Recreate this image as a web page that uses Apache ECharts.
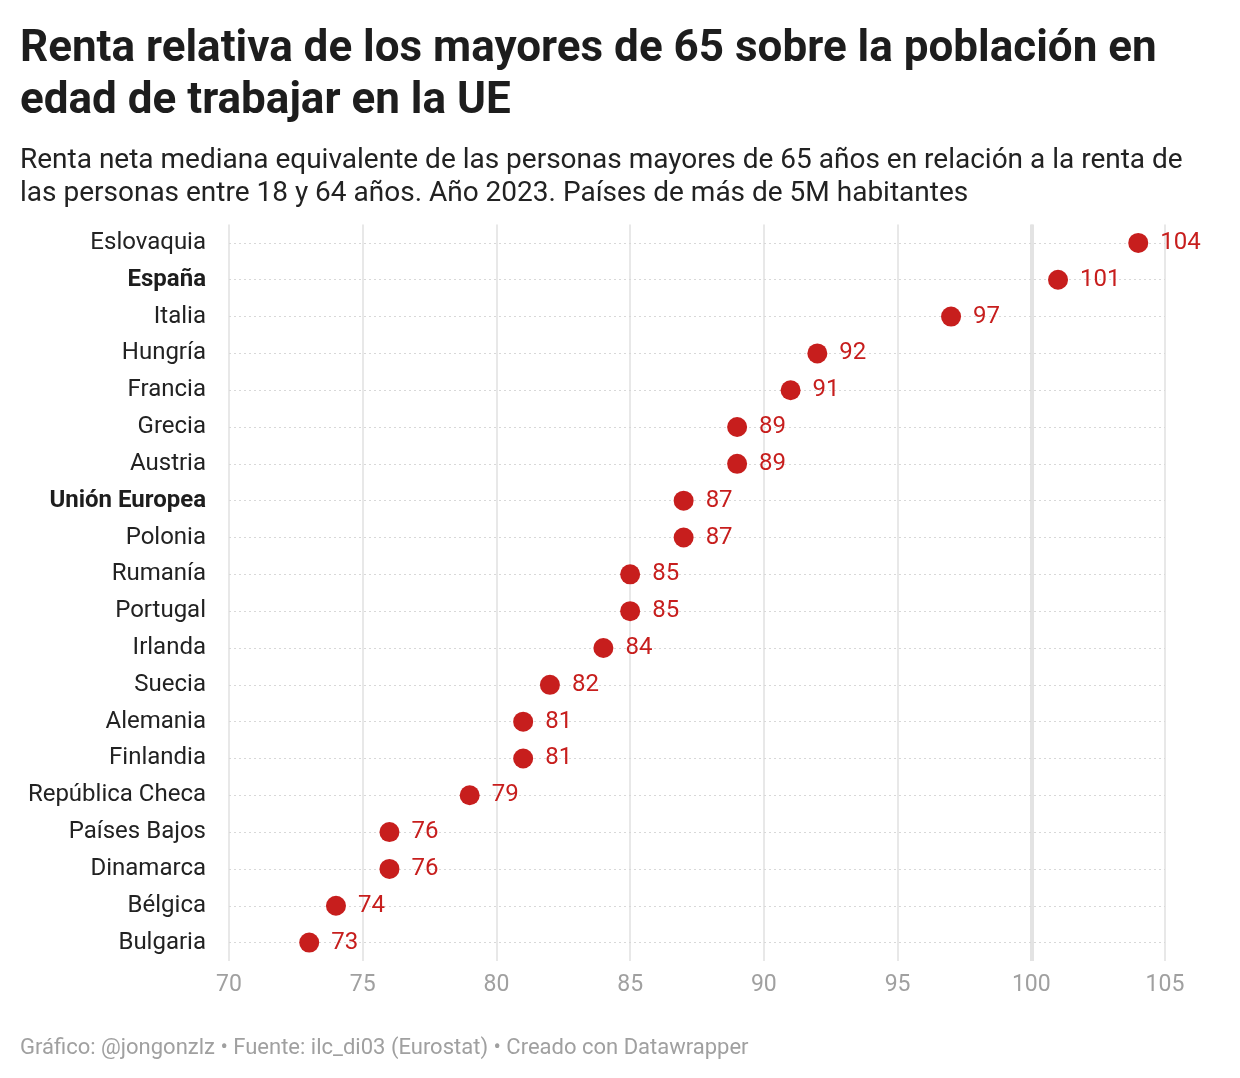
<!DOCTYPE html>
<html><head><meta charset="utf-8">
<script src="https://cdn.jsdelivr.net/npm/echarts@6/dist/echarts.min.js"></script>
<style>body{margin:0;background:#fff}#c{width:1240px;height:1078px}</style>
</head><body><div id="c"></div>
<script>
const countries = ["Eslovaquia","España","Italia","Hungría","Francia","Grecia","Austria","Unión Europea","Polonia","Rumanía","Portugal","Irlanda","Suecia","Alemania","Finlandia","República Checa","Países Bajos","Dinamarca","Bélgica","Bulgaria"];
const values = [104,101,97,92,91,89,89,87,87,85,85,84,82,81,81,79,76,76,74,73];
const boldRows = ["España","Unión Europea"];
const F = "Roboto";
const chart = echarts.init(document.getElementById('c'));
chart.setOption({
  backgroundColor:'#fff',
  textStyle:{fontFamily:F},
  title:[
    {text:'Renta relativa de los mayores de 65 sobre la población en\nedad de trabajar en la UE',left:15,top:19,
     textStyle:{fontFamily:F,fontSize:44,fontWeight:'bold',color:'#1d1d1d',lineHeight:52}},
    {text:'Renta neta mediana equivalente de las personas mayores de 65 años en relación a la renta de\nlas personas entre 18 y 64 años. Año 2023. Países de más de 5M habitantes',left:15,top:139,
     textStyle:{fontFamily:F,fontSize:28,fontWeight:'normal',color:'#222',lineHeight:33}},
    {text:'Gráfico: @jongonzlz • Fuente: ilc_di03 (Eurostat) • Creado con Datawrapper',left:15,top:1032,
     textStyle:{fontFamily:F,fontSize:22,fontWeight:'normal',color:'#a0a0a0'}}
  ],
  grid:{left:229,right:75,top:224.5,bottom:1078-961,containLabel:false},
  xAxis:{type:'value',min:70,max:105,interval:5,
    axisLine:{show:false},axisTick:{show:false},
    axisLabel:{fontFamily:F,fontSize:23,color:'#a0a0a0',margin:13},
    splitLine:{show:true,lineStyle:{color:'#e0e0e0',width:1.5}}},
  yAxis:{type:'category',data:countries,inverse:true,
    axisLine:{show:false},axisTick:{show:false},
    axisLabel:{margin:23,fontFamily:F,fontSize:24,color:'#222',
      formatter:v=>boldRows.includes(v)?'{b|'+v+'}':v,
      rich:{b:{fontFamily:F,fontSize:24,fontWeight:'bold',color:'#1d1d1d'}}},
    splitLine:{show:false}},
  series:[
    {type:'scatter',data:values,symbolSize:20,itemStyle:{color:'#c71e1d',opacity:1},
     label:{show:true,position:'right',distance:12,fontFamily:F,fontSize:24,color:'#c71e1d'},
     markLine:{silent:true,symbol:'none',label:{show:false},
       data:[{xAxis:100,lineStyle:{color:'#e3e3e3',width:4,type:'solid'}}].concat(
         countries.map(c=>({yAxis:c,lineStyle:{color:'#d8d8d8',width:1,type:[2,3]}})))},
     z:5}
  ]
});
</script></body></html>
